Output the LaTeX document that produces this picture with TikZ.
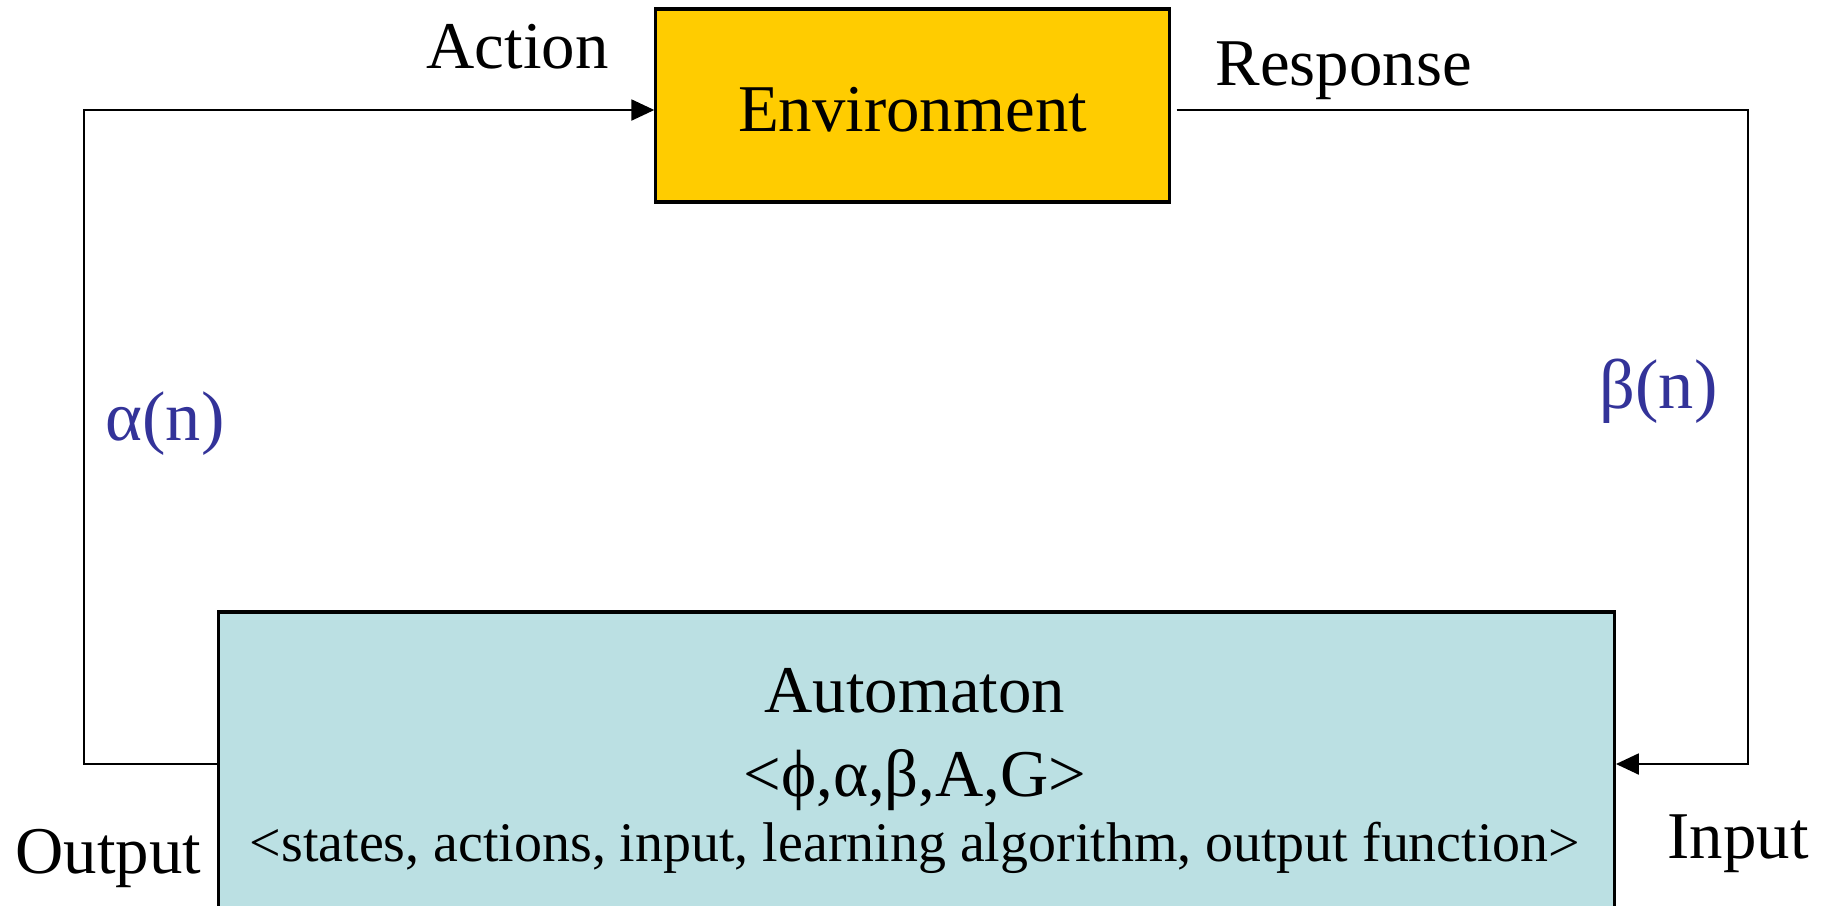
\documentclass[tikz,border=0pt]{standalone}
\usepackage{fontspec}
\setmainfont{Liberation Serif}
\usetikzlibrary{arrows.meta}
\definecolor{envyellow}{HTML}{FFCC00}
\definecolor{autcyan}{HTML}{BBE0E3}
\definecolor{lblblue}{HTML}{333399}
\begin{document}
\begin{tikzpicture}[x=0.01cm,y=-0.01cm,
  lbl/.style={font=\fontsize{19}{22}\selectfont, inner sep=0pt, anchor=base},
  lblw/.style={lbl, anchor=base west},
  small/.style={font=\fontsize{15.9}{19}\selectfont, inner sep=0pt, anchor=base},
  greek/.style={lblw, text=lblblue, font=\fontsize{20}{24}\selectfont},
  conn/.style={line width=0.45pt, draw=black},
  tip/.style={-{Triangle[length=6.5pt,width=6pt]}},
  blk/.style={draw=black, line width=0.9pt, inner sep=0pt}]
\useasboundingbox (0,0) rectangle (1830,905);
\clip (0,0) rectangle (1830,905);
% boxes
\node[blk, fill=envyellow, minimum width=5.13cm, minimum height=1.93cm] (env) at (912.5,105.5) {};
\node[blk, fill=autcyan, minimum width=13.95cm, minimum height=3.4cm] (aut) at (916.5,782) {};
% texts in boxes
\node[lbl] (envt) at (912.5,131) {Environment};
\node[lbl] (autt) at (915,712) {Automaton};
\node[lbl] (tuple) at (915,796) {<ϕ,α,β,A,G>};
\node[small] (desc) at (915,861) {<states, actions, input, learning algorithm, output function>};
% connector corners
\coordinate (tl) at (84,110);
\coordinate (tr) at (1748,110);
\coordinate (bl) at (84,764);
\coordinate (br) at (1748,764);
% connectors
\draw[conn,tip] (aut.west |- bl) -- (bl) -- (tl) -- (env.west |- tl);
\draw[conn,tip] ([xshift=0.06cm]env.east |- tr) -- (tr) -- (br) -- (aut.east |- br);
% labels
\node[lblw] (action) at (426,68) {Action};
\node[lblw] (response) at (1215,85) {Response};
\node[lblw] (output) at (15,873) {Output};
\node[lblw] (input) at (1667,858) {Input};
\node[greek] (alpha) at (105,440) {α(n)};
\node[greek] (beta) at (1599,408) {β(n)};
\end{tikzpicture}
\end{document}
